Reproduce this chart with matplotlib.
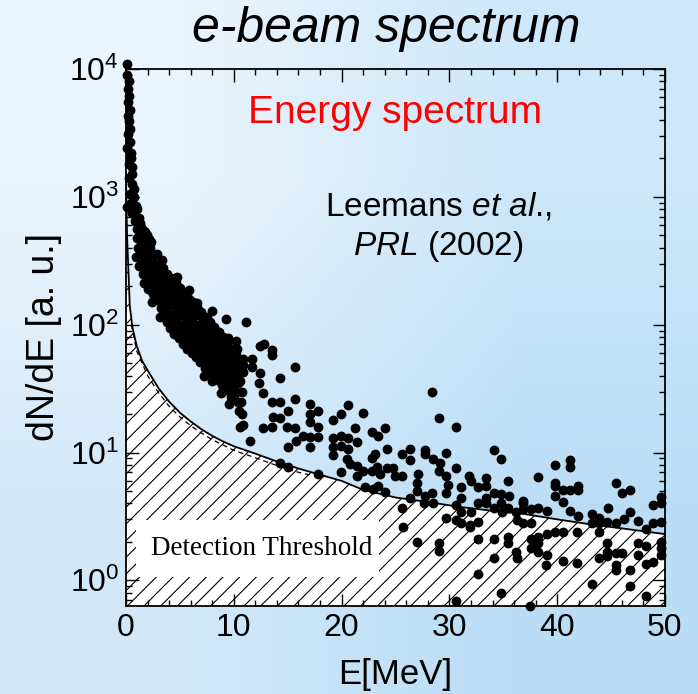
import numpy as np
import matplotlib
matplotlib.use('Agg')
import matplotlib.pyplot as plt
from matplotlib.patches import Rectangle
from matplotlib.ticker import MultipleLocator, LogLocator

plt.rcParams['font.family'] = ['Liberation Sans']
plt.rcParams['mathtext.fontset'] = 'custom'
plt.rcParams['mathtext.rm'] = 'Liberation Sans'
plt.rcParams['mathtext.it'] = 'Liberation Sans:italic'
plt.rcParams['hatch.linewidth'] = 0.8

# spike of points right at E ~ 0
spike_e = [0.05, 0.1, 0.25, 0.15, 0.3, 0.2, 0.35, 0.15, 0.3, 0.4, 0.2, 0.35, 0.1, 0.45,
           0.5, 0.3, 0.55, 0.6, 0.3, 0.55, 0.7, 0.4, 0.75, 0.1, 0.5, 0.9, 1.0, 0.6, 1.2,
           0.8, 1.3, 1.5, 1.0, 1.8, 1.7, 2.1]
spike_n = [11000, 9000, 8000, 7000, 6200, 5500, 4800, 4300, 3900, 3400, 3100, 2700, 2400, 2200,
           2000, 1800, 1700, 1500, 1400, 1250, 1150, 1050, 1000, 830, 900, 850, 800, 750, 680,
           650, 600, 560, 560, 530, 540, 470]

# dense band, E ~ 1 - 11 MeV
band_e = [1.0, 1.1, 0.95,
          1.4, 1.35, 1.5, 1.45, 1.6,
          1.8, 1.9, 1.75, 1.85, 2.0,
          2.2, 2.3, 2.15, 2.25, 2.4, 2.5,
          2.6, 2.7, 2.55, 2.75, 2.65, 2.9, 2.85,
          3.0, 3.1, 2.95, 3.15, 3.05, 3.25, 3.3,
          3.4, 3.5, 3.35, 3.55, 3.45, 3.6, 3.8,
          3.8, 3.9, 3.75, 3.95, 3.85, 4.0, 4.1,
          4.2, 4.3, 4.15, 4.35, 4.25, 4.4, 4.5,
          4.6, 4.7, 4.55, 4.75, 4.65, 4.8, 4.9,
          5.0, 5.1, 4.95, 5.15, 5.05, 5.2, 5.3,
          5.4, 5.5, 5.35, 5.55, 5.45, 5.6, 5.7,
          5.8, 5.9, 5.75, 5.95, 5.85, 6.0, 6.1,
          6.2, 6.3, 6.15, 6.35, 6.25, 6.4, 6.5,
          6.6, 6.7, 6.55, 6.75, 6.65, 6.8, 6.9,
          7.0, 7.1, 6.95, 7.15, 7.05, 7.2, 7.3, 7.2,
          7.4, 7.5, 7.35, 7.55, 7.45, 7.6, 7.7,
          7.8, 7.9, 7.75, 7.95, 7.85, 8.0, 8.1, 8.0,
          8.2, 8.3, 8.15, 8.35, 8.25, 8.4, 8.5,
          8.6, 8.7, 8.55, 8.75, 8.65, 8.8, 8.9, 8.8,
          9.0, 9.1, 8.95, 9.15, 9.05, 9.2, 9.3,
          9.4, 9.5, 9.35, 9.55, 9.45, 9.6, 9.7, 9.6,
          9.8, 9.9, 9.75, 9.95, 9.85, 10.0,
          10.2, 10.3, 10.15, 10.35, 10.25, 10.4, 10.5,
          10.6, 10.7, 10.55, 10.75, 10.65, 10.8, 10.9,
          1.2, 1.65, 2.05, 2.45, 3.2, 1.3, 1.95, 2.35]
band_n = [480, 400, 340,
          520, 430, 360, 300, 250,
          450, 380, 320, 270, 230,
          400, 340, 290, 245, 205, 175,
          350, 300, 255, 215, 180, 155, 355,
          300, 260, 225, 190, 160, 135, 320,
          280, 240, 205, 175, 148, 125, 105,
          250, 215, 185, 158, 135, 112, 95,
          230, 195, 168, 142, 120, 102, 85,
          210, 180, 152, 130, 110, 92, 78,
          195, 162, 138, 118, 100, 84, 70,
          175, 150, 128, 108, 92, 77, 64,
          160, 138, 118, 100, 84, 70, 60,
          150, 128, 108, 92, 78, 66, 56,
          138, 118, 100, 85, 72, 60, 51,
          125, 108, 92, 78, 66, 55, 46, 40,
          115, 98, 84, 72, 61, 52, 43,
          105, 90, 77, 66, 56, 48, 41, 36,
          96, 82, 70, 60, 51, 44, 37,
          88, 75, 64, 55, 47, 40, 34, 29,
          80, 68, 58, 50, 43, 36, 31,
          72, 62, 53, 45, 38, 32, 27, 24,
          65, 55, 47, 40, 34, 28,
          58, 49, 42, 35, 30, 25, 21,
          50, 43, 36, 30, 25, 20, 16.5,
          290, 210, 190, 150, 115, 620, 500, 440]

# sparse points above the threshold
tail_e = [4.7, 5.8, 6.55, 7.95, 9.3, 11.1, 6.2, 7.5, 8.2, 4.76, 5.3, 9.5, 10.2, 12.4, 12.8,
          13.5, 13.5, 10.9, 11.7, 10.9, 11.7, 10.3, 9.8,
          15.7, 14.3, 10.9, 12.4, 12.3, 12.7, 13.5, 14.3, 15.7, 17.1, 15.0, 17.8, 17.1, 13.6,
          14.3, 17.1, 14.9, 15.7, 16.4, 17.1, 17.8, 17.8, 15.8, 15.0, 17.1, 13.5, 12.7, 10.6,
          11.5, 14.3, 15.0, 17.8, 19.2, 19.9, 20.6, 22.0, 21.2, 19.2, 19.9, 20.6, 21.4, 22.8,
          23.4, 24.0, 19.2, 19.9, 20.6, 19.2, 20.5, 20.8, 21.4, 22.0, 21.4, 19.9, 22.8, 23.1,
          24.2, 23.3, 22.8, 24.2, 24.8, 25.0, 25.6, 23.6, 22.2, 22.9, 23.4, 24.0, 25.6, 26.3,
          26.3, 27.1, 27.0, 27.0, 27.7, 27.7, 28.5, 29.1, 29.0, 29.7, 29.7, 28.4, 29.0, 27.7,
          28.4, 28.5, 27.6, 26.3, 25.6, 29.7,
          30.6, 29.7, 30.6, 29.9, 30.6, 31.1, 31.1, 31.1, 31.8, 32.0, 32.7, 32.7, 33.4, 33.4,
          33.4, 33.4, 34.1, 34.8, 34.1, 34.8, 34.1, 34.8, 34.9, 35.4, 35.5, 35.4, 32.0, 36.2,
          36.8, 36.8, 36.8, 37.6, 38.2, 38.2, 39.1, 39.8, 39.8, 39.8, 39.8, 40.5, 40.5, 41.2,
          41.2, 41.2, 41.9, 41.9, 41.2, 41.9, 43.2, 43.9, 44.7, 45.5, 46.0, 46.8, 46.8, 48.9,
          49.6, 49.6, 30.6, 31.1]
tail_n = [237, 186, 148, 129, 110, 105, 132, 112, 95, 174, 148, 78, 75, 68, 71,
          63, 58, 54, 54, 48, 47, 65, 56,
          47, 38, 43, 42, 35, 29, 25, 25, 26, 24, 21, 21, 20, 19,
          18.6, 17.4, 15.8, 15.5, 13.5, 13.2, 15.8, 13.2, 12.3, 11, 11, 15.8, 15.5, 15.8,
          12.3, 8.3, 7.7, 6.8, 17.8, 20, 23.7, 20.4, 15.5, 12.9, 13.5, 12.9, 12, 14.5,
          13.5, 15.5, 11, 11.2, 10.7, 9.5, 8.9, 8.1, 7.9, 7.2, 6.6, 7.1, 9.1, 9.8,
          10.7, 7.7, 7.2, 7.5, 7.5, 6.5, 6.5, 6.8, 5.4, 5.2, 5.5, 4.9, 9.8, 10.7,
          8.7, 6.8, 5.8, 5.0, 10.5, 9.8, 8.9, 8.3, 7.2, 6.6, 4.8, 30, 18.6, 4.6,
          4.8, 4.0, 4.0, 4.4, 3.7, 3.05,
          15.7, 10, 7.6, 5.6, 3.9, 3.4, 5.4, 4.4, 6.5, 6.0, 5.4, 4.0, 6.3, 5.5,
          4.4, 4.0, 10.5, 8.9, 4.8, 4.7, 3.7, 4.0, 3.4, 6.0, 4.6, 3.7, 3.4, 3.4,
          4.2, 4.0, 3.6, 3.6, 6.4, 3.7, 3.5, 8.0, 5.8, 5.5, 4.6, 5.1, 4.1, 8.8,
          7.7, 5.1, 5.1, 5.5, 3.5, 3.2, 3.3, 3.05, 3.7, 5.8, 4.8, 5.1, 3.4, 3.9,
          4.5, 4.0, 2.95, 2.8]

# points below the threshold curve
low_e = [25.7, 27.0, 29.0, 29.0, 31.9, 31.9, 32.7, 36.3, 36.8, 37.6, 43.2, 43.9, 43.9, 44.6,
         46.2, 45.5, 47.5, 48.2, 48.9, 49.6,
         32.7, 32.7, 30.6, 34.1, 34.1, 34.8, 35.4, 35.4, 36.2, 36.3, 37.6, 38.2, 38.2, 37.6,
         38.2, 37.5, 39.1, 39.1, 39.0, 39.8, 40.5, 40.5, 41.8, 41.8, 43.2, 43.9, 44.6, 44.6,
         44.6, 45.5, 46.0, 45.5, 45.5, 46.8, 46.8, 47.5, 47.5, 48.2, 48.2, 48.9, 49.6, 49.6,
         49.6, 48.2]
low_n = [2.6, 2.0, 1.95, 1.7, 2.7, 2.6, 2.85, 2.95, 2.8, 2.8, 2.8, 2.8, 2.4, 2.85,
         3.0, 2.8, 2.9, 2.5, 2.8, 2.85,
         2.1, 1.13, 0.69, 2.1, 1.5, 0.79, 2.2, 1.95, 1.66, 1.5, 2.1, 2.2, 1.95, 1.8,
         1.66, 0.63, 2.3, 1.58, 1.33, 2.4, 2.4, 1.41, 2.4, 1.36, 0.93, 1.5, 1.95, 1.66,
         1.55, 1.64, 1.64, 1.32, 1.2, 1.2, 0.91, 1.95, 1.58, 1.86, 1.35, 1.38, 2.0, 1.78,
         1.57, 0.75]

# detection threshold curve
thr_e = [0.0, 0.05, 0.1, 0.2, 0.35, 0.6, 1.0, 1.5, 2.0, 3.0, 4.0, 5.0, 6.0, 7.0, 8.0, 9.0,
         10.0, 12.0, 14.0, 16.0, 18.0, 20.0, 22.0, 25.0, 28.0, 31.0, 34.0, 37.0, 40.0, 43.0,
         46.0, 50.0]
thr_n = [1500, 800, 500, 300, 140, 95, 68, 52, 44, 32, 25, 20.5, 17.5, 15.2, 13.5, 12.2,
         11.2, 9.8, 8.5, 7.5, 6.7, 6.0, 5.1, 4.45, 4.1, 3.75, 3.5, 3.3, 3.0, 2.75, 2.55, 2.3]
thr2_e = [0.5, 1.0, 2.0, 3.0, 4.0, 5.0, 6.0, 7.0, 8.0, 10.0, 12.0, 14.0, 16.0, 17.0]
thr2_n = [100, 62, 40, 29.5, 23, 19, 16.2, 14.2, 12.6, 10.4, 9.1, 7.9, 7.0, 6.7]

fig = plt.figure(figsize=(6.98, 6.94), dpi=100)

# background gradient
bg = fig.add_axes([0, 0, 1, 1], zorder=-10)
grad = np.array([[[234, 245, 253], [206, 231, 249]],
                 [[210, 232, 249], [186, 221, 245]]]) / 255.0
bg.imshow(grad, extent=[0, 1, 0, 1], aspect='auto', interpolation='bilinear')
bg.axis('off')

ax = fig.add_axes([0.1805, 0.1268, 0.7722, 0.7738])
ax.set_facecolor('none')

ax.fill_between(thr_e, 0.1, thr_n, facecolor='white', edgecolor='black', hatch='//',
                linewidth=0, zorder=1)
ax.plot(thr_e, thr_n, color='black', lw=1.3, zorder=2)
ax.plot(thr2_e, thr2_n, color='black', lw=0.9, ls=(0, (4, 3)), zorder=2)

all_e = spike_e + band_e + tail_e + low_e
all_n = spike_n + band_n + tail_n + low_n
ax.scatter(all_e, all_n, s=50, color='black', linewidths=0, zorder=4, clip_on=False)

ax.set_yscale('log')
ax.set_xlim(0, 50)
ax.set_ylim(0.63, 1.0e4)
ax.xaxis.set_major_locator(MultipleLocator(10))
ax.xaxis.set_minor_locator(MultipleLocator(2))
ax.yaxis.set_major_locator(LogLocator(base=10))
ax.yaxis.set_minor_locator(LogLocator(base=10, subs=np.arange(2, 10)))
ax.tick_params(which='both', direction='in', top=True, right=True, width=1.0)
ax.tick_params(which='major', length=9, labelsize=23, pad=5)
ax.tick_params(which='minor', length=4.5)
for sp in ax.spines.values():
    sp.set_linewidth(1.3)

ax.set_xlabel('E[MeV]', fontsize=25, labelpad=11)
ax.set_ylabel('dN/dE [a. u.]', fontsize=27, labelpad=5)

# detection threshold label box
ax.add_patch(Rectangle((0.0186, 0.054), 0.451, 0.106, transform=ax.transAxes,
                       facecolor='white', edgecolor='none', zorder=3))
ax.text(0.252, 0.108, 'Detection Threshold', transform=ax.transAxes, ha='center',
        va='center', fontsize=19.5, family='Liberation Serif', zorder=5)

ax.text(0.50, 0.918, 'Energy spectrum', transform=ax.transAxes, ha='center', va='center',
        fontsize=28, color='red')
ax.text(0.58, 0.705, 'Leemans $\\mathit{et\\ al}$.,\n$\\mathit{PRL}$ (2002)', transform=ax.transAxes,
        ha='center', va='center', fontsize=24, linespacing=1.25)

fig.text(0.554, 0.958, 'e-beam spectrum', ha='center', va='center', fontsize=36,
         style='italic')

fig.savefig('out.png', dpi=100)
